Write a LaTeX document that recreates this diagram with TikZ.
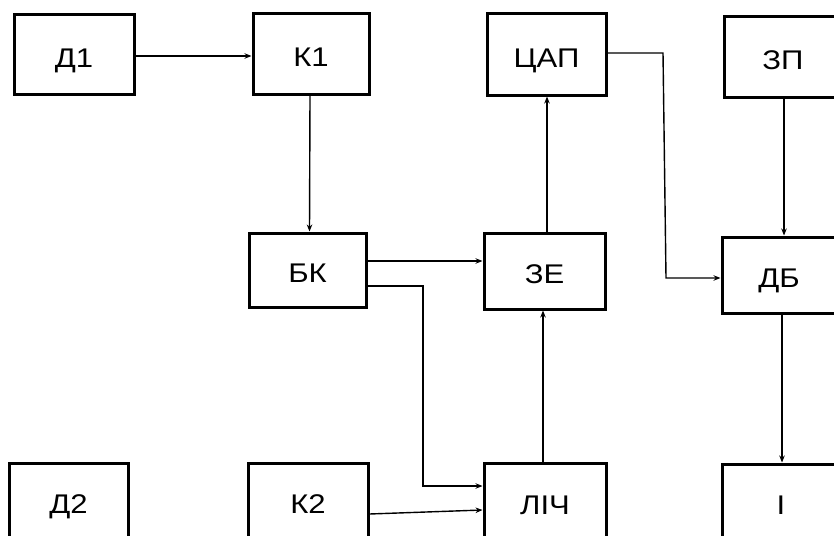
\documentclass[tikz,border=0pt]{standalone}
\usepackage{fontspec}
\setmainfont{Liberation Sans}[FakeStretch=1.15]
\usetikzlibrary{arrows.meta}
\begin{document}
\begin{tikzpicture}[x=1pt,y=-1pt,
  box/.style={draw, line width=3pt, rectangle, inner sep=0pt,
    font=\fontsize{27}{27}\selectfont, text height=25.3pt, text depth=0pt},
  conn/.style={line width=1.4pt, -{Stealth[length=7pt,width=5.5pt]}}]
\useasboundingbox (0,0) rectangle (834,535);
\clip (0,0) rectangle (834,535);
\fill[white] (0,0) rectangle (834,535);
% top row
\node[box, minimum width=120pt, minimum height=79pt] (d1) at (74,54.5) {Д1};
\node[box, minimum width=116pt, minimum height=80pt] (k1) at (311,54) {К1};
\node[box, minimum width=119pt, minimum height=81pt] (dac) at (546.5,54.5) {ЦАП};
\node[box, minimum width=118pt, minimum height=80pt] (zp) at (783,57) {ЗП};
% middle row
\node[box, minimum width=117pt, minimum height=74pt] (bk) at (307.5,270) {БК};
\node[box, minimum width=121pt, minimum height=76pt] (ze) at (544.5,271) {ЗЕ};
\node[box, minimum width=114pt, minimum height=76pt] (db) at (779,275) {ДБ};
% bottom row
\node[box, minimum width=119pt, minimum height=76pt] (d2) at (68.5,501) {Д2};
\node[box, minimum width=120pt, minimum height=76pt] (k2) at (308,501) {К2};
\node[box, minimum width=122pt, minimum height=78pt] (lich) at (545,502) {ЛІЧ};
\node[box, minimum width=118pt, minimum height=76pt] (ii) at (781,502) {І};
% connectors
\draw[conn] ([yshift=-1.5pt]d1.east) -- ([yshift=-2pt]k1.west);
\draw[conn] ([xshift=-1pt]k1.south) -- ([xshift=2pt]bk.north);
\draw[conn] ([yshift=9pt]bk.east) -- ([yshift=10pt]ze.west);
\coordinate (c1) at (423,286);
\coordinate (c2) at (423,486);
\draw[conn] ([yshift=-16pt]bk.east) -- (c1) -- (c2) -- (c2 -| lich.west);
\draw[conn] ([yshift=-13pt]k2.east) -- ([yshift=-8pt]lich.west);
\draw[conn] ([xshift=-2pt]lich.north) -- ([xshift=-1.5pt]ze.south);
\draw[conn] ([xshift=2.5pt]ze.north) -- ([xshift=0.5pt]dac.south);
\coordinate (c3) at (663,53);
\coordinate (c4) at (666,278);
\draw[conn] ([yshift=1.5pt]dac.east) -- (c3) -- (c4) -- (c4 -| db.west);
\draw[conn] ([xshift=1pt]zp.south) -- ([xshift=5pt]db.north);
\draw[conn] ([xshift=3pt]db.south) -- ([xshift=1pt]ii.north);
\end{tikzpicture}
\end{document}
